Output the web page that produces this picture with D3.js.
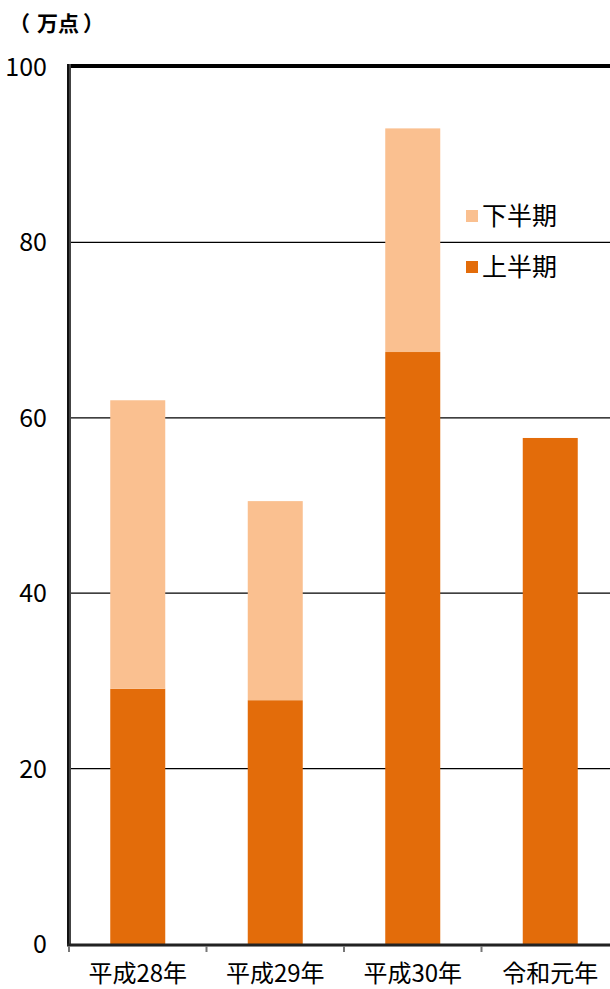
<!DOCTYPE html>
<html>
<head>
<meta charset="utf-8">
<script src="https://cdn.jsdelivr.net/npm/d3@7"></script>
<style>
  body { margin: 0; background: #fff; }
  text { font-family: "Noto Sans CJK JP", sans-serif; }
</style>
</head>
<body>
<div id="chart-area"></div>
<script>
'use strict';

// 万点
let years = ['平成28年', '平成29年', '平成30年', '令和元年'];
let firstHalf = [29.1, 27.8, 67.5, 57.7];
let secondHalf = [32.9, 22.7, 25.5, 0];
let seriesNames = ['下半期', '上半期'];
let yTicks = [0, 20, 40, 60, 80, 100];

let W = 610, H = 989;
let mLeft = 69, mTop = 67, mBottom = 944;

let svg = d3.select('#chart-area').append('svg')
    .attr('width', W)
    .attr('height', H);

let x = d3.scaleBand()
    .domain(years)
    .range([mLeft, mLeft + 137.5 * 4])
    .paddingInner(0.6)
    .paddingOuter(0.3);

let y = d3.scaleLinear()
    .domain([0, 100])
    .range([mBottom, mTop]);

let colours = d3.scaleOrdinal()
    .domain(seriesNames)
    .range(['#fac090', '#e36c0a']);

// grid lines
svg.selectAll('.grid')
    .data(yTicks.filter(t => t > 0 && t < 100))
    .enter().append('line')
        .attr('x1', mLeft)
        .attr('x2', W)
        .attr('y1', d => y(d))
        .attr('y2', d => y(d))
        .attr('stroke', '#000')
        .attr('stroke-width', 1.2);

// stacked bars
let rows = years.map((yr, i) => ({ year: yr, up: firstHalf[i], down: secondHalf[i] }));
let stack = d3.stack().keys(['up', 'down'])(rows);

svg.selectAll('.layer')
    .data(stack)
    .enter().append('g')
        .attr('fill', d => colours(d.key === 'up' ? '上半期' : '下半期'))
    .selectAll('rect')
    .data(d => d)
    .enter().append('rect')
        .attr('x', d => x(d.data.year))
        .attr('y', d => y(d[1]))
        .attr('width', x.bandwidth())
        .attr('height', d => y(d[0]) - y(d[1]));

// frame: top border, left axis, bottom axis
svg.append('line')
    .attr('x1', mLeft - 2).attr('x2', W)
    .attr('y1', mTop - 1).attr('y2', mTop - 1)
    .attr('stroke', '#000').attr('stroke-width', 4);

svg.append('line')
    .attr('x1', mLeft).attr('x2', mLeft)
    .attr('y1', mTop - 3).attr('y2', mBottom + 1)
    .attr('stroke', '#444').attr('stroke-width', 4);
svg.append('line')
    .attr('x1', mLeft - 1).attr('x2', mLeft - 1)
    .attr('y1', mTop - 3).attr('y2', mBottom + 1)
    .attr('stroke', '#000').attr('stroke-width', 1.5);

svg.append('line')
    .attr('x1', mLeft - 2).attr('x2', W)
    .attr('y1', mBottom + 1).attr('y2', mBottom + 1)
    .attr('stroke', '#222').attr('stroke-width', 3);
svg.append('line')
    .attr('x1', mLeft - 2).attr('x2', W)
    .attr('y1', mBottom + 2.5).attr('y2', mBottom + 2.5)
    .attr('stroke', '#888').attr('stroke-width', 1);

// x ticks between categories
let bounds = [0, 1, 2, 3].map(i => mLeft + i * 137.5);
svg.selectAll('.xtick')
    .data(bounds)
    .enter().append('line')
        .attr('x1', d => d).attr('x2', d => d)
        .attr('y1', mBottom + 2).attr('y2', mBottom + 8)
        .attr('stroke', '#777').attr('stroke-width', 2);

// y labels
svg.selectAll('.ylab')
    .data(yTicks)
    .enter().append('text')
        .attr('x', 47)
        .attr('y', d => y(d))
        .attr('dy', '0.36em')
        .attr('text-anchor', 'end')
        .attr('font-size', 25)
        .attr('fill', '#000')
        .text(d => d);

// x labels
svg.selectAll('.xlab')
    .data(years)
    .enter().append('text')
        .attr('x', d => x(d) + x.bandwidth() / 2)
        .attr('y', 982)
        .attr('text-anchor', 'middle')
        .attr('font-size', 24)
        .attr('fill', '#000')
        .text(d => d);

// unit
let unit = svg.append('text')
    .attr('y', 31)
    .attr('font-size', 21)
    .attr('font-weight', 'bold')
    .attr('fill', '#000');
unit.append('tspan').attr('x', 9).text('（');
unit.append('tspan').attr('x', 37).text('万点');
unit.append('tspan').attr('x', 83).text('）');

// legend
let legend = svg.selectAll('.legend')
    .data(seriesNames)
    .enter().append('g')
        .attr('transform', (d, i) => 'translate(466,' + (210 + i * 51) + ')');
legend.append('rect')
    .attr('width', 12).attr('height', 12)
    .attr('fill', d => colours(d));
legend.append('text')
    .attr('x', 16).attr('y', 6)
    .attr('dy', '0.36em')
    .attr('font-size', 25)
    .attr('fill', '#000')
    .text(d => d);
</script>
</body>
</html>
